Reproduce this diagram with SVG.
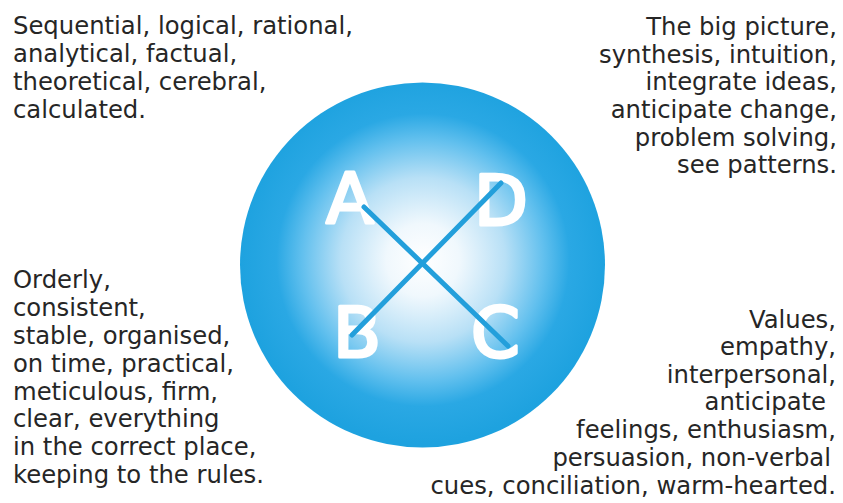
<svg xmlns="http://www.w3.org/2000/svg" width="843" height="503" viewBox="0 0 843 503">
<defs>
<radialGradient id="glow" cx="423" cy="260" r="183" gradientUnits="userSpaceOnUse">
<stop offset="0" stop-color="#ffffff"/>
<stop offset="0.2" stop-color="#f0f8fd"/>
<stop offset="0.45" stop-color="#b8e0f6"/>
<stop offset="0.66" stop-color="#62c0ee"/>
<stop offset="0.8" stop-color="#2aa8e4"/>
<stop offset="1" stop-color="#1ea2df"/>
</radialGradient>
<style>
.t{font-family:"DejaVu Sans","Liberation Sans",sans-serif;font-size:24.3px;fill:#262626}
.r{text-anchor:end}
.L{font-family:"DejaVu Sans","Liberation Sans",sans-serif;font-size:70px;fill:#ffffff;stroke:#ffffff;stroke-width:3.2;stroke-linejoin:round}
.x{stroke:#239fdb;stroke-width:5;stroke-linecap:round}
</style>
</defs>
<rect width="843" height="503" fill="#ffffff"/>
<g id="circle">
<circle cx="422.5" cy="265" r="182.5" fill="url(#glow)"/>
</g>
<g id="letters">
<text class="L" x="326" y="223">A</text>
<text class="L" x="474" y="225">D</text>
<text class="L" x="333" y="357">B</text>
<text class="L" x="471" y="357">C</text>
</g>
<g id="connectors">
<line class="x" x1="364" y1="207" x2="508" y2="346"/>
<line class="x" x1="501" y1="183" x2="352" y2="335"/>
</g>
<g id="quadA">
<text class="t" x="13" y="34">Sequential, logical, rational,</text>
<text class="t" x="13" y="62">analytical, factual,</text>
<text class="t" x="13" y="90">theoretical, cerebral,</text>
<text class="t" x="13" y="118">calculated.</text>
</g>
<g id="quadD">
<text class="t r" x="837" y="35">The big picture,</text>
<text class="t r" x="837" y="63">synthesis, intuition,</text>
<text class="t r" x="837" y="90">integrate ideas,</text>
<text class="t r" x="837" y="118">anticipate change,</text>
<text class="t r" x="837" y="146">problem solving,</text>
<text class="t r" x="837" y="173">see patterns.</text>
</g>
<g id="quadB">
<text class="t" x="13" y="288">Orderly,</text>
<text class="t" x="13" y="316">consistent,</text>
<text class="t" x="13" y="344">stable, organised,</text>
<text class="t" x="13" y="372">on time, practical,</text>
<text class="t" x="13" y="400">meticulous, firm,</text>
<text class="t" x="13" y="427">clear, everything</text>
<text class="t" x="13" y="455">in the correct place,</text>
<text class="t" x="13" y="483">keeping to the rules.</text>
</g>
<g id="quadC">
<text class="t r" x="836" y="328">Values,</text>
<text class="t r" x="836" y="355">empathy,</text>
<text class="t r" x="836" y="383">interpersonal,</text>
<text class="t r" x="826" y="410">anticipate</text>
<text class="t r" x="836" y="438">feelings, enthusiasm,</text>
<text class="t r" x="831" y="466">persuasion, non-verbal</text>
<text class="t r" x="836" y="494">cues, conciliation, warm-hearted.</text>
</g>
</svg>
